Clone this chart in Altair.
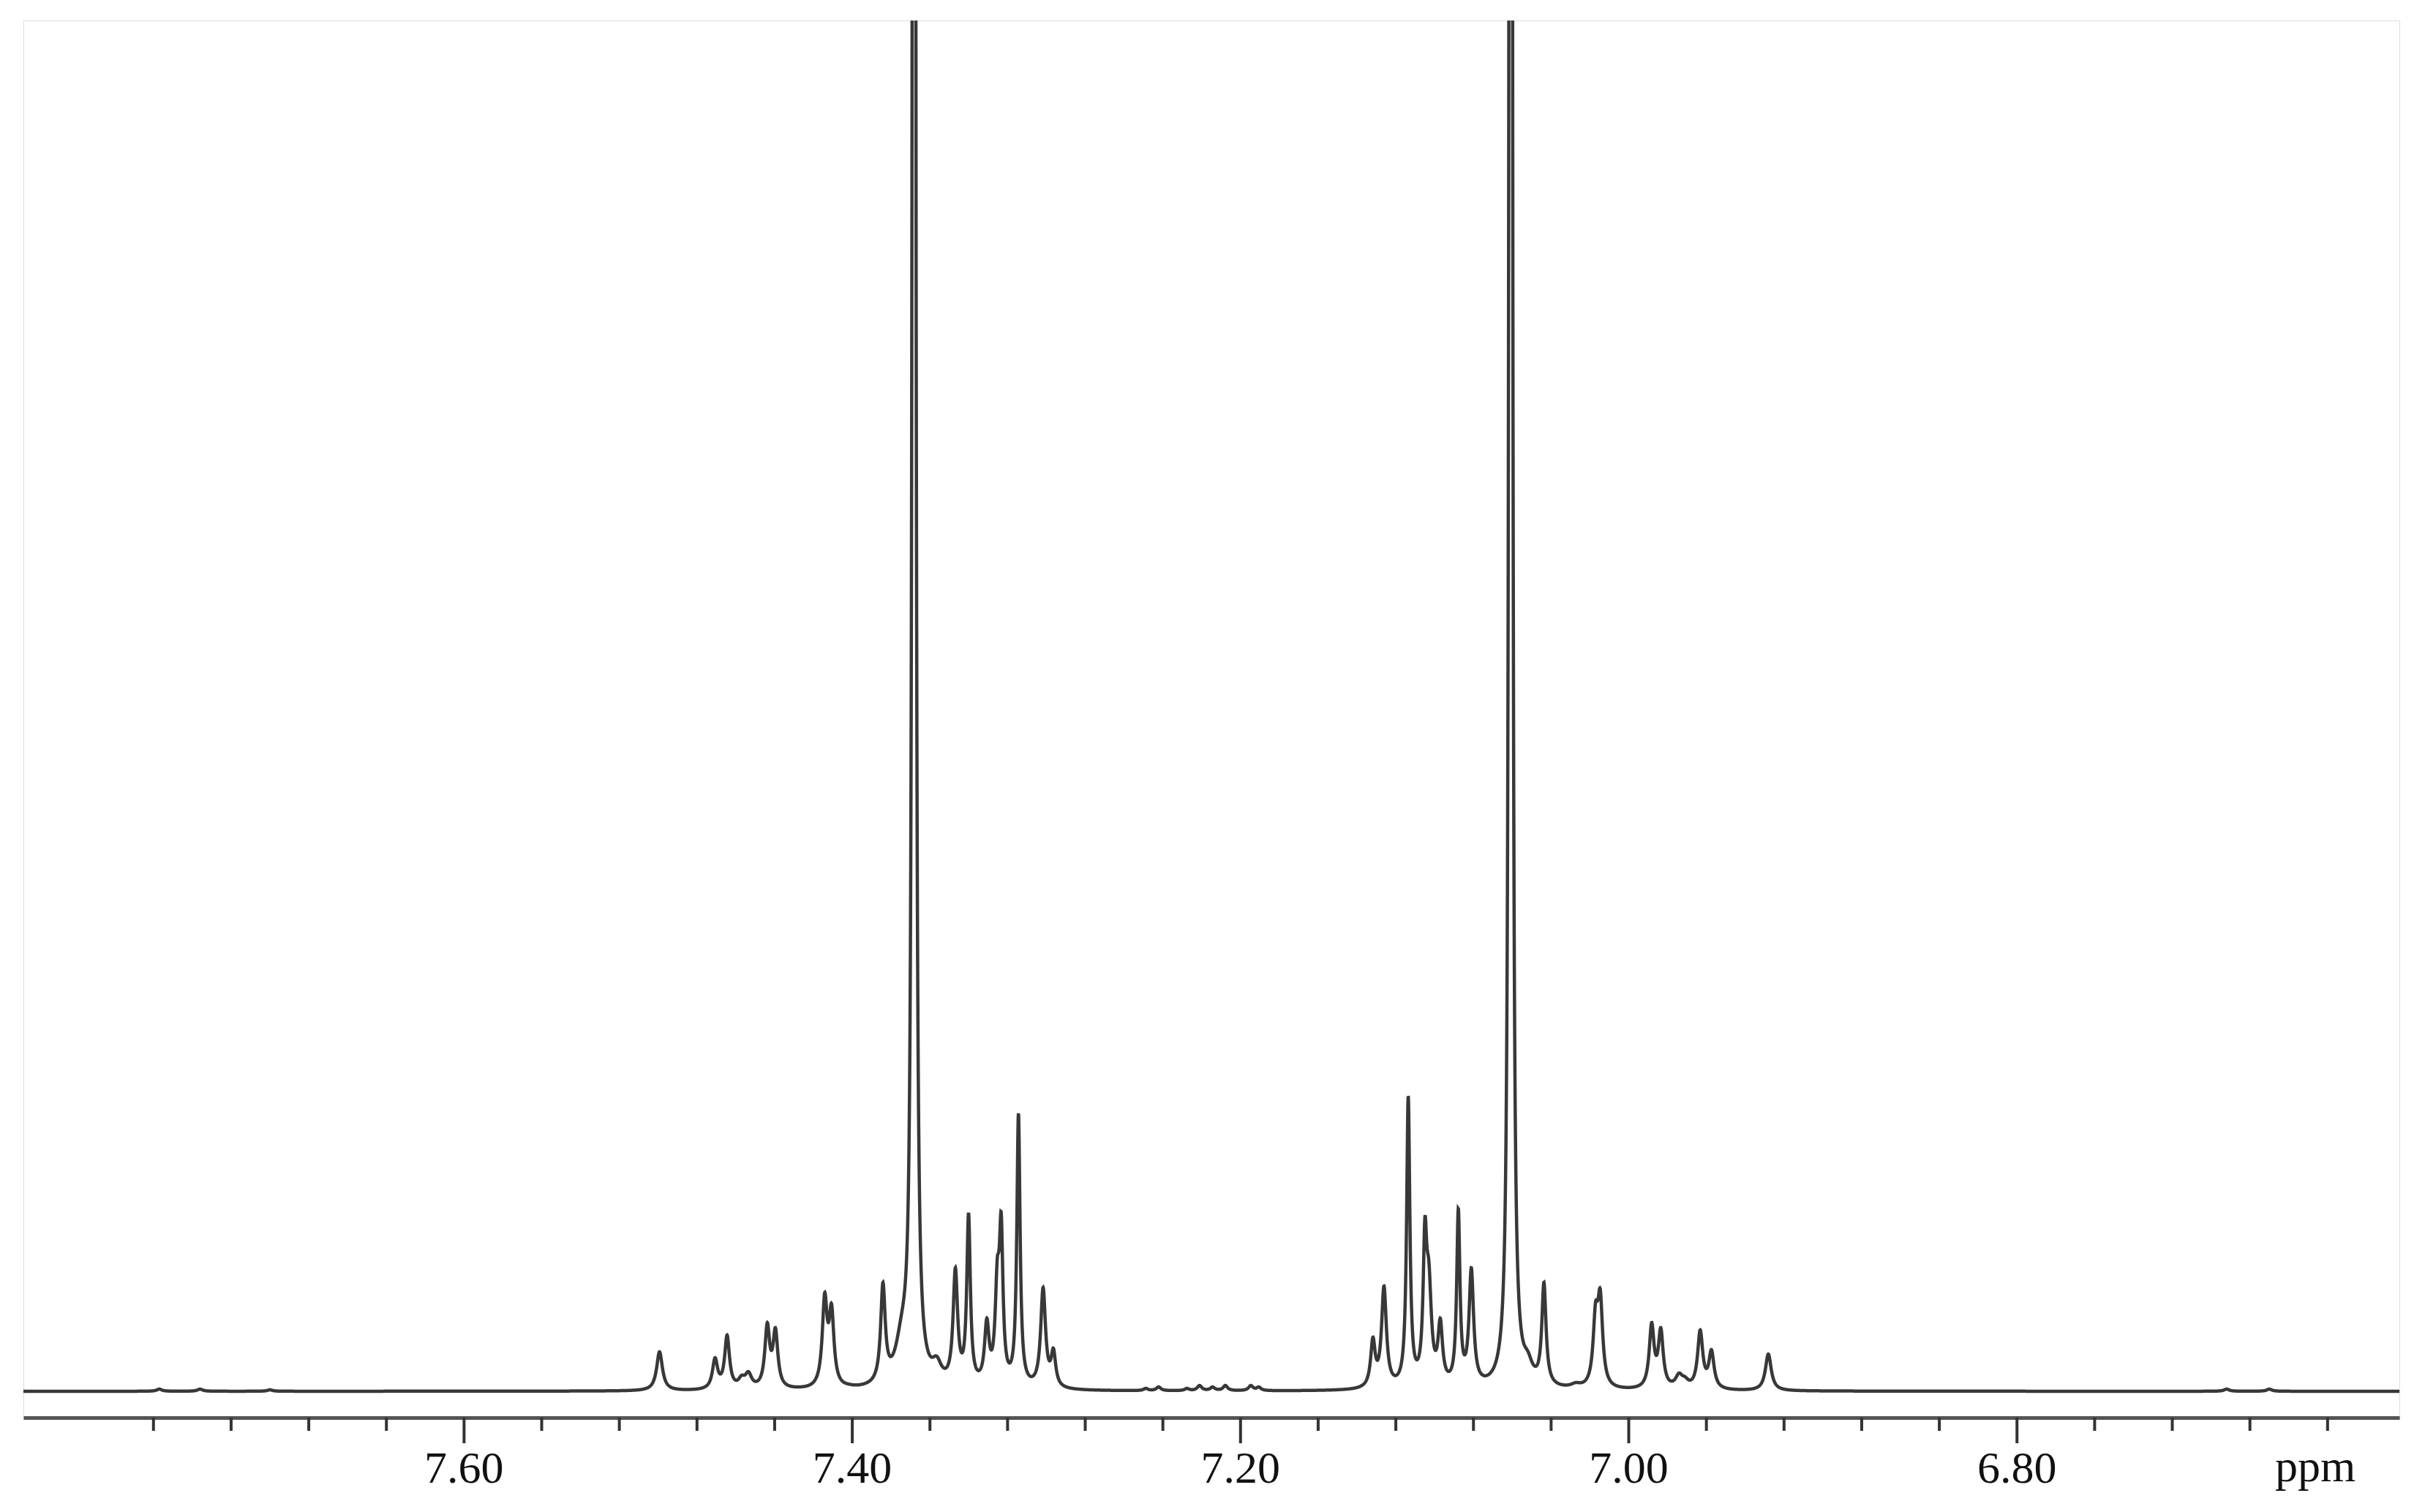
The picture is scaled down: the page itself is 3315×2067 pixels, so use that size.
import numpy as np
import pandas as pd
import altair as alt

alt.data_transformers.disable_max_rows()

peak_ppm = [7.757, 7.736, 7.700,
            7.4993, 7.4707, 7.4645, 7.4570, 7.4535, 7.4438, 7.4396, 7.4280,
            7.4142, 7.4107, 7.4020, 7.3842, 7.3745, 7.3565, 7.3469, 7.3401,
            7.3307, 7.3253, 7.3233, 7.3144, 7.3017, 7.2964,
            7.2488, 7.2422, 7.2276, 7.2211, 7.2144, 7.2078, 7.1947, 7.1906,
            7.1318, 7.1261, 7.1136, 7.1050, 7.1030, 7.0971, 7.0878, 7.0811,
            7.0650, 7.0520, 7.0437, 7.0273, 7.0171, 7.0147, 6.9882, 6.9835,
            6.9741, 6.9710, 6.9632, 6.9574, 6.9281,
            6.692, 6.670]
peak_height = [3, 3, 2,
               54, 46, 77, 22, 27, 94, 87, 6,
               135, 120, 10, 149, 108, 48, 169, 244,
               100, 182, 245, 380, 142, 59,
               4, 6, 4, 8, 6, 8, 8, 6,
               74, 144, 404, 239, 179, 100, 250, 169,
               110, 55, 149, 12, 122, 140, 94, 87,
               25, 20, 84, 57, 51,
               3, 3]
peak_width = [0.0016, 0.0016, 0.0016,
              0.0018, 0.0016, 0.0015, 0.0020, 0.0020, 0.0015, 0.0015, 0.0030,
              0.0015, 0.0015, 0.0030, 0.0014, 0.0040, 0.0030, 0.0014, 0.0011,
              0.0014, 0.0013, 0.0011, 0.0010, 0.0015, 0.0014,
              0.0014, 0.0014, 0.0014, 0.0014, 0.0014, 0.0014, 0.0014, 0.0014,
              0.0014, 0.0015, 0.0010, 0.0011, 0.0016, 0.0014, 0.0010, 0.0014,
              0.0040, 0.0030, 0.0013, 0.0030, 0.0015, 0.0015, 0.0015, 0.0015,
              0.0022, 0.0022, 0.0016, 0.0016, 0.0018,
              0.0016, 0.0016]

# two intense lines that run off the top of the plot
big_ppm = [7.3682, 7.0608]
big_amp = [13000, 13000]
big_width = [0.0004, 0.0004]

# axis ticks
major_ticks = [7.60, 7.40, 7.20, 7.00, 6.80]
major_labels = ["7.60", "7.40", "7.20", "7.00", "6.80"]
minor_ticks = [7.76, 7.72, 7.68, 7.64, 7.56, 7.52, 7.48, 7.44, 7.36, 7.32,
               7.28, 7.24, 7.16, 7.12, 7.08, 7.04, 6.96, 6.92, 6.88, 6.84,
               6.76, 6.72, 6.68, 6.64]

X_MIN, X_MAX = 6.603, 7.827
Y_MIN, Y_MAX = -36, 1874
W, H = 3248, 1910


def lor(x, x0, w):
    return 1.0 / (1.0 + ((x - x0) / w) ** 2)


p0 = np.array(peak_ppm)
h0 = np.array(peak_height, dtype=float)
w0 = np.array(peak_width)


def big_sum(x):
    s = np.zeros_like(x, dtype=float)
    for c, a, w in zip(big_ppm, big_amp, big_width):
        s += a * lor(x, c, w)
    return s


# amplitudes so that the summed lines reproduce the observed heights at the peak positions
M = lor(p0[:, None], p0[None, :], w0[None, :])
target = np.maximum(h0 - big_sum(p0), 0.5)
amp = target.copy()
for _ in range(300):
    model = M @ amp
    amp = amp * target / np.maximum(model, 1e-6)

x = np.linspace(X_MIN, X_MAX, 13000)
y = big_sum(x) + (lor(x[:, None], p0[None, :], w0[None, :]) * amp[None, :]).sum(axis=1)
y = np.minimum(y, Y_MAX + 200)

spec = pd.DataFrame({"ppm": x, "y": y})
maj = pd.DataFrame({"ppm": major_ticks, "label": major_labels})
mnr = pd.DataFrame({"ppm": minor_ticks})

xscale = alt.Scale(domain=[X_MIN, X_MAX], reverse=True, nice=False, zero=False)

line = alt.Chart(spec).mark_line(clip=True, color="#383838", strokeWidth=4.5).encode(
    x=alt.X("ppm:Q", scale=xscale,
            axis=alt.Axis(domain=True, domainColor="#555555", domainWidth=5,
                          ticks=False, labels=False, grid=False, title=None)),
    y=alt.Y("y:Q", scale=alt.Scale(domain=[Y_MIN, Y_MAX], nice=False, zero=False), axis=None),
)

minor_rules = alt.Chart(mnr).mark_rule(color="#333333", strokeWidth=4).encode(
    x=alt.X("ppm:Q", scale=xscale),
    y=alt.value(H),
    y2=alt.value(H + 18),
)

major_rules = alt.Chart(maj).mark_rule(color="#333333", strokeWidth=4).encode(
    x=alt.X("ppm:Q", scale=xscale),
    y=alt.value(H),
    y2=alt.value(H + 35),
)

labels = alt.Chart(maj).mark_text(font="Liberation Serif", fontSize=62, color="#111111",
                                  baseline="alphabetic", align="center").encode(
    x=alt.X("ppm:Q", scale=xscale),
    y=alt.value(1999),
    text="label:N",
)

unit = alt.Chart(pd.DataFrame({"t": ["ppm"]})).mark_text(
    font="Liberation Serif", fontSize=62, color="#111111",
    baseline="alphabetic", align="center").encode(
    x=alt.value(3133), y=alt.value(1997), text="t:N")

chart = alt.layer(line, minor_rules, major_rules, labels, unit).properties(
    width=W, height=H,
    autosize=alt.AutoSizeParams(type="none"),
    padding={"left": 24, "top": 20, "right": 27, "bottom": 110},
).configure_view(stroke=None).configure(background="white")

chart.save("out.html", embed_options={"renderer": "svg", "actions": False})
